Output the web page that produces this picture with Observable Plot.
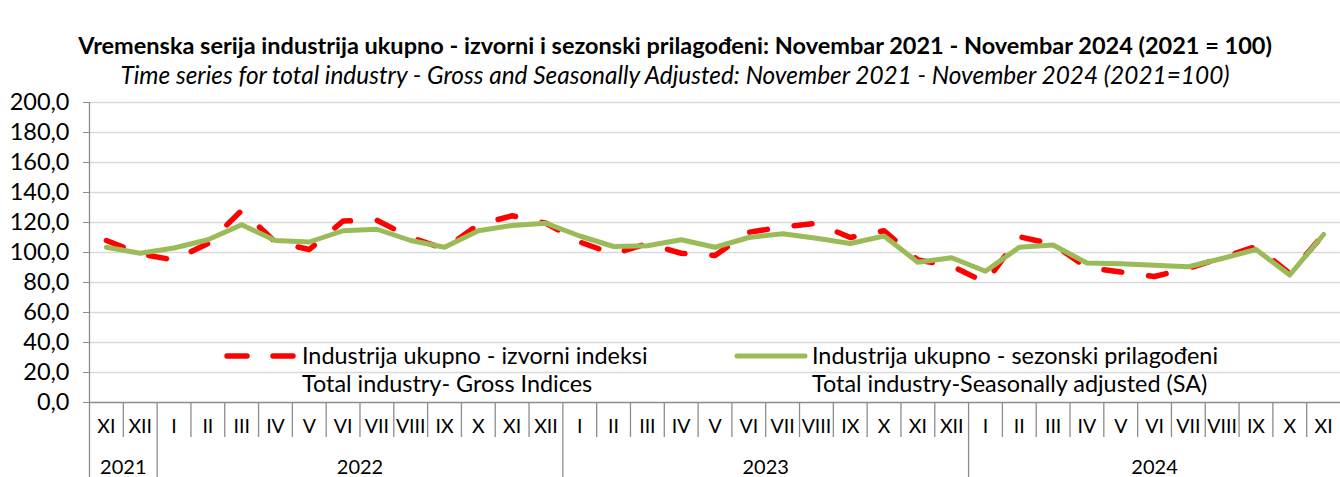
<!DOCTYPE html>
<html><head><meta charset="utf-8">
<script src="https://cdn.jsdelivr.net/npm/d3@7"></script>
<script src="https://cdn.jsdelivr.net/npm/@observablehq/plot@0.6"></script>
<style>
body{margin:0;background:#fff;font-family:Lato,"Open Sans",sans-serif;}
#wrap{position:relative;width:1340px;height:477px;overflow:hidden;background:#fff}
.t{position:absolute;left:0;width:1350px;text-align:center;color:#000;white-space:nowrap}
#title{top:31px;font-weight:bold;font-size:23.5px;line-height:28px}
#subtitle{top:61px;font-style:italic;font-size:24.4px;line-height:28px}
#chart{position:absolute;top:95px;left:0}
.lg{position:absolute;font-size:23.4px;line-height:28px;color:#000;white-space:nowrap}
.sw{position:absolute}
</style></head>
<body>
<div id="wrap">
  <div id="title" class="t">Vremenska serija industrija ukupno - izvorni i sezonski prilagođeni: Novembar 2021 - Novembar 2024 (2021 = 100)</div>
  <div id="subtitle" class="t">Time series for total industry - Gross and Seasonally Adjusted: November 2021 - November 2024 (2021=100)</div>
  <div id="chart"></div>
  <svg class="sw" style="left:215px;top:345px" width="90" height="22"><line x1="12" x2="80" y1="11" y2="11" stroke="#ff0000" stroke-width="5.5" stroke-linecap="round" stroke-dasharray="20,26"/></svg>
  <div class="lg" style="left:302px;top:341px">Industrija ukupno - izvorni indeksi</div>
  <div class="lg" style="left:302px;top:369px">Total industry- Gross Indices</div>
  <svg class="sw" style="left:725px;top:345px" width="90" height="22"><line x1="12" x2="80" y1="11" y2="11" stroke="#9bbb59" stroke-width="5" stroke-linecap="round"/></svg>
  <div class="lg" style="left:812px;top:341px">Industrija ukupno - sezonski prilagođeni</div>
  <div class="lg" style="left:812px;top:369px">Total industry-Seasonally adjusted (SA)</div>
</div>
<script>
const months = ["XI","XII",
  "I","II","III","IV","V","VI","VII","VIII","IX","X","XI","XII",
  "I","II","III","IV","V","VI","VII","VIII","IX","X","XI","XII",
  "I","II","III","IV","V","VI","VII","VIII","IX","X","XI"];
const years = ["2021","2022","2023","2024"];
const monthsPerYear = [2,12,12,11];
const gross = [108, 99,
  95, 106, 128, 107, 102, 121, 121.5, 110, 102.5, 118.5, 124.5, 119.5,
  107, 99, 106, 99.5, 98, 113.5, 117, 119.5, 110, 114.5, 95, 91,
  80, 110.5, 105.5, 90, 87, 84, 89.5, 96.5, 104, 86, 112];
const sa = [103.5, 99.5,
  103, 108.5, 118.5, 108, 107, 114.5, 115.5, 108, 103.5, 114.5, 118, 119.5,
  111, 104, 104.5, 108.5, 103.5, 110, 112.5, 109.5, 106, 111, 93.5, 96.5,
  87.5, 103.5, 105, 93, 92.5, 91.5, 90.5, 96, 102, 85, 112];
const yTicks = d3.range(0, 201, 20);

const idx = months.map((m, i) => i);
let acc = 0;
const yearInfo = years.map((y, k) => {
  const start = acc; acc += monthsPerYear[k];
  return {label: y, start, end: acc, center: (start + acc - 1) / 2};
});
const boundaries = d3.range(1, months.length);
const yearBounds = new Set(yearInfo.map(d => d.start));

const MONTH_DEPTH = -23.3, YEAR_DEPTH = -50;
const axisColor = "#8c8c8c";

const chart = Plot.plot({
  width: 1340,
  height: 382,
  marginTop: 7,
  marginBottom: 75,
  marginLeft: 89,
  marginRight: 0,
  style: {fontFamily: "Lato, 'Open Sans', sans-serif", fontSize: "20px", color: "#000", background: "#fff", overflow: "visible"},
  x: {type: "linear", domain: [-0.5, months.length - 0.5], axis: null},
  y: {domain: [0, 200], axis: null},
  marks: [
    Plot.gridY(yTicks.filter(d => d > 0), {stroke: "#d9d9d9", strokeOpacity: 1, strokeWidth: 1.3}),
    Plot.axisY(yTicks, {tickSize: 6, tickPadding: 14, stroke: axisColor, fill: "#000", fontSize: 23.5,
      tickFormat: d => d.toFixed(1).replace(".", ",")}),
    Plot.ruleY([0], {stroke: axisColor, strokeWidth: 1.3}),
    Plot.ruleX([-0.5], {y1: 200, y2: YEAR_DEPTH, stroke: axisColor, strokeWidth: 1.3}),
    Plot.ruleX(boundaries, {x: d => d - 0.5, y1: 0, y2: d => yearBounds.has(d) ? YEAR_DEPTH : MONTH_DEPTH, stroke: axisColor, strokeWidth: 1.3}),
    Plot.text(months, {x: (d, i) => i, y: -16, text: d => d, fontSize: 19.5, fill: "#000"}),
    Plot.text(yearInfo, {x: "center", y: -43.5, text: "label", fontSize: 20, fill: "#000"}),
    Plot.line(idx, {x: i => i, y: i => gross[i], stroke: "#ff0000", strokeWidth: 5.5,
      strokeDasharray: "18,27", strokeLinecap: "round", strokeLinejoin: "round"}),
    Plot.line(idx, {x: i => i, y: i => sa[i], stroke: "#9bbb59", strokeWidth: 5,
      strokeLinecap: "round", strokeLinejoin: "round"})
  ]
});
document.getElementById("chart").appendChild(chart);
</script>
</body></html>
